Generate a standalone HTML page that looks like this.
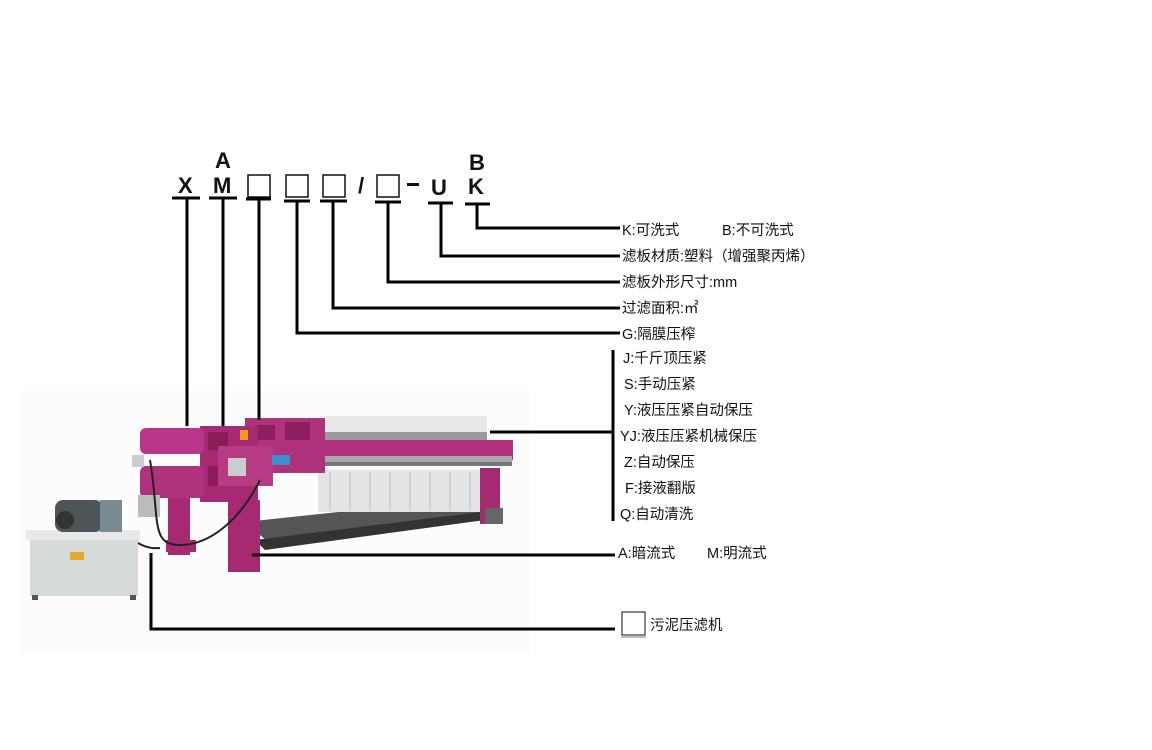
<!DOCTYPE html>
<html><head><meta charset="utf-8"><style>
html,body{margin:0;padding:0;background:#fff;}
svg{display:block}
text{font-family:"Liberation Sans","Noto Sans CJK SC",sans-serif;fill:#111;}
.b{font-weight:bold;font-size:22px;}
.l{font-size:14.5px;}
</style></head><body>
<svg width="1152" height="750" viewBox="0 0 1152 750" xmlns="http://www.w3.org/2000/svg">
<rect width="1152" height="750" fill="#fff"/>
<rect x="20" y="390" width="510" height="265" fill="#fcfcfd"/>
<polygon points="245,522 470,498 500,512 275,548" fill="#555"/>
<polygon points="255,540 480,512 485,520 265,550" fill="#333"/>
<rect x="318" y="470" width="165" height="42" fill="#e4e4e6"/>
<g stroke="#b8b8bc" stroke-width="1">
<line x1="330" y1="472" x2="330" y2="510"/><line x1="350" y1="472" x2="350" y2="510"/><line x1="370" y1="472" x2="370" y2="510"/><line x1="390" y1="472" x2="390" y2="510"/><line x1="410" y1="472" x2="410" y2="510"/><line x1="430" y1="472" x2="430" y2="510"/><line x1="450" y1="472" x2="450" y2="510"/><line x1="470" y1="472" x2="470" y2="510"/>
</g>
<rect x="325" y="416" width="162" height="30" fill="#e8e8ea"/>
<rect x="325" y="432" width="162" height="12" fill="#9a9a9e"/>
<rect x="480" y="468" width="20" height="56" fill="#a52a72"/>
<rect x="485" y="508" width="18" height="16" fill="#666"/>
<rect x="245" y="440" width="268" height="20" fill="#b0327c"/>
<rect x="262" y="456" width="250" height="8" fill="#a8a8aa"/>
<rect x="262" y="462" width="250" height="4" fill="#777"/>
<rect x="245" y="418" width="80" height="55" fill="#b0327c"/>
<rect x="255" y="425" width="20" height="15" fill="#8e1f5e"/>
<rect x="285" y="422" width="25" height="18" fill="#8e1f5e"/>
<rect x="200" y="426" width="58" height="76" fill="#a52a72"/>
<rect x="208" y="432" width="20" height="18" fill="#8a1c5a"/>
<rect x="208" y="466" width="25" height="20" fill="#8a1c5a"/>
<rect x="218" y="446" width="55" height="40" fill="#b73a85"/>
<rect x="228" y="458" width="18" height="18" fill="#ccc"/>
<rect x="240" y="430" width="8" height="10" fill="#f29a1e"/>
<rect x="140" y="428" width="64" height="26" rx="6" fill="#b8358a"/>
<rect x="140" y="466" width="64" height="32" rx="6" fill="#b0327c"/>
<rect x="132" y="455" width="12" height="12" fill="#ccc"/>
<rect x="138" y="495" width="22" height="22" fill="#bbb"/>
<rect x="168" y="498" width="22" height="57" fill="#a52a72"/>
<rect x="228" y="500" width="32" height="72" fill="#a52a72"/>
<rect x="166" y="540" width="30" height="12" fill="#a52a72"/>
<rect x="272" y="455" width="18" height="10" fill="#3a8fd0"/>
<path d="M150 460 C160 520 150 545 180 545 C210 545 240 520 260 480" fill="none" stroke="#222" stroke-width="2"/>
<path d="M110 530 C130 535 140 550 160 548" fill="none" stroke="#222" stroke-width="2"/>
<rect x="30" y="538" width="108" height="58" fill="#d6dad8"/>
<rect x="26" y="530" width="114" height="10" fill="#e6e9e7"/>
<rect x="70" y="552" width="14" height="8" fill="#e3a92a"/>
<rect x="32" y="595" width="6" height="5" fill="#555"/><rect x="130" y="595" width="6" height="5" fill="#555"/>
<rect x="55" y="500" width="48" height="32" rx="8" fill="#4e5558"/>
<rect x="100" y="500" width="22" height="32" fill="#7a8a92"/>
<circle cx="65" cy="520" r="9" fill="#333"/>

<text class="b" x="178" y="193">X</text>
<text class="b" x="215" y="168">A</text>
<text class="b" x="213" y="193">M</text>
<rect x="248" y="175" width="22" height="22" fill="none" stroke="#111" stroke-width="1.5"/>
<rect x="286" y="175" width="22" height="22" fill="none" stroke="#111" stroke-width="1.5"/>
<rect x="323" y="175" width="22" height="22" fill="none" stroke="#111" stroke-width="1.5"/>
<text class="b" x="358" y="193">/</text>
<rect x="377" y="175" width="22" height="22" fill="none" stroke="#111" stroke-width="1.5"/>
<rect x="407" y="183" width="12" height="3" fill="#111"/>
<text class="b" x="431" y="195">U</text>
<text class="b" x="469" y="170">B</text>
<text class="b" x="468" y="194">K</text>

<g stroke="#000" stroke-width="3" fill="none">
<line x1="172" y1="198" x2="200" y2="198"/>
<line x1="209" y1="198" x2="237" y2="198"/>
<line x1="246" y1="199" x2="271" y2="199"/>
<line x1="284" y1="201" x2="310" y2="201"/>
<line x1="320" y1="201" x2="347" y2="201"/>
<line x1="375" y1="202" x2="401" y2="202"/>
<line x1="428" y1="203" x2="453" y2="203"/>
<line x1="465" y1="204" x2="490" y2="204"/>
<line x1="187" y1="198" x2="187" y2="426"/>
<line x1="223" y1="198" x2="223" y2="426"/>
<line x1="259" y1="199" x2="259" y2="420"/>
<polyline points="297,201 297,333 620,333"/>
<polyline points="333,201 333,308 620,308"/>
<polyline points="388,202 388,282 620,282"/>
<polyline points="441,203 441,256 620,256"/>
<polyline points="477,204 477,228 620,228"/>
<line x1="490" y1="432" x2="613" y2="432"/>
<line x1="613" y1="350" x2="613" y2="521"/>
<line x1="252" y1="555" x2="615" y2="555"/>
<polyline points="151,553 151,629 615,629"/>
</g>

<text class="l" x="622" y="235">K:可洗式</text>
<text class="l" x="722" y="235">B:不可洗式</text>
<text class="l" x="622" y="261">滤板材质:塑料（增强聚丙烯）</text>
<text class="l" x="622" y="287">滤板外形尺寸:mm</text>
<text class="l" x="622" y="313">过滤面积:㎡</text>
<text class="l" x="622" y="339">G:隔膜压榨</text>
<text class="l" x="623" y="363">J:千斤顶压紧</text>
<text class="l" x="624" y="389">S:手动压紧</text>
<text class="l" x="624" y="415">Y:液压压紧自动保压</text>
<text class="l" x="620" y="441">YJ:液压压紧机械保压</text>
<text class="l" x="624" y="467">Z:自动保压</text>
<text class="l" x="625" y="493">F:接液翻版</text>
<text class="l" x="620" y="519">Q:自动清洗</text>
<text class="l" x="618" y="558">A:暗流式</text>
<text class="l" x="707" y="558">M:明流式</text>
<rect x="622" y="612" width="23" height="23" fill="#fff" stroke="#111" stroke-width="1"/>
<line x1="621" y1="637" x2="646" y2="637" stroke="#aaa" stroke-width="1.5"/>
<text class="l" x="650" y="630">污泥压滤机</text>
</svg>
</body></html>
